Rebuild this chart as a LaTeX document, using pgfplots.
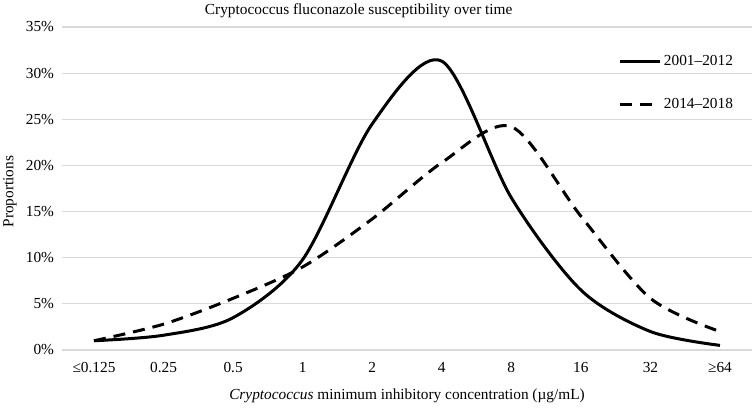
\documentclass[border=0pt]{standalone}
\usepackage{fontspec}
\setmainfont{Liberation Serif}
\usepackage{pgfplots}
\pgfplotsset{compat=1.18}
\definecolor{gridgray}{RGB}{217,217,217}
\begin{document}
\fontsize{11.5}{13}\selectfont
\begin{tikzpicture}
\path[use as bounding box] (-46.5pt,-44.25pt) rectangle (519pt,262.5pt);
\begin{axis}[
  scale only axis,
  width=517.5pt, height=242.25pt,
  xmin=-0.46, xmax=9.46,
  ymin=0, ymax=35,
  axis line style={draw=none},
  xtick={0,...,9},
  xticklabels={≤0.125,0.25,0.5,1,2,4,8,16,32,≥64},
  ytick={0,5,...,35},
  yticklabel={\pgfmathprintnumber{\tick}\%},
  /pgf/number format/assume math mode=true,
  tick style={draw=none},
  ticklabel style={font=\fontsize{11.5}{13}\selectfont},
  ymajorgrids,
  grid style={gridgray, line width=0.9pt},
  xticklabel style={yshift=-5pt},
  yticklabel style={xshift=-2pt},
  every axis title shift=0pt,
  title={Cryptococcus fluconazole susceptibility over time},
  title style={at={(axis description cs:0.43,1)}, anchor=base, yshift=9.5pt, font=\fontsize{11.5}{13}\selectfont},
  xlabel={\textit{Cryptococcus} minimum inhibitory concentration (µg/mL)},
  xlabel style={at={(axis description cs:0.5,0)}, anchor=base, yshift=-37pt, font=\fontsize{11.5}{13}\selectfont},
  ylabel={Proportions},
  ylabel style={at={(axis description cs:-0.0754,0.49)}, anchor=center, font=\fontsize{11.5}{13}\selectfont},
  legend style={draw=none, fill=none, at={(axis description cs:0.80,0.93)}, anchor=north west,
    row sep=19pt, font=\fontsize{11.5}{13}\selectfont},
  legend cell align=left,
  legend image code/.code={\draw[#1] (0pt,0pt) -- (30pt,0pt);},
]
\addplot[black, line width=2.25pt, smooth, tension=0.5] coordinates {
 (0,1.0) (1,1.6) (2,3.5) (3,9.8) (4,24.5) (5,31.3) (6,16.5) (7,6.5) (8,2.0) (9,0.5)
};
\addlegendentry{2001–2012}
\addplot[black, line width=2.25pt, smooth, tension=0.5, dash pattern=on 9pt off 6pt] coordinates {
 (0,1.0) (1,2.8) (2,5.6) (3,9.0) (4,14.2) (5,20.3) (6,24.2) (7,14.5) (8,5.6) (9,2.0)
};
\addlegendentry{2014–2018}
\end{axis}
\end{tikzpicture}
\end{document}
